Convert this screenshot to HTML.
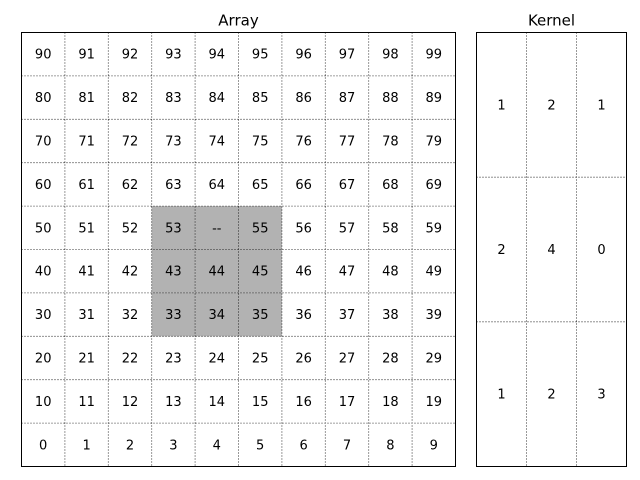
<!DOCTYPE html>
<html><head><meta charset="utf-8"><style>
html,body{margin:0;padding:0;background:#fff;}
svg{display:block;font-family:"DejaVu Sans","Liberation Sans",sans-serif;}
</style></head><body>
<svg id="chart" width="640" height="480"></svg>
<script>
const arrayRows = 10;
const arrayCols = 10;
const maskedValue = 54;
const highlightRows = [3, 4, 5];
const highlightCols = [3, 4, 5];
const kernelValues = [[1, 2, 1], [2, 4, 0], [1, 2, 3]];

const NS = "http://www.w3.org/2000/svg";
const svg = document.getElementById("chart");
function mk(tag, attrs, parent) {
  const e = document.createElementNS(NS, tag);
  for (const k in attrs) e.setAttribute(k, attrs[k]);
  (parent || svg).appendChild(e);
  return e;
}

function drawPanel(x0, y0, w, h, nRows, nCols, valueAt, isHighlighted, title, name) {
  const g = mk("g", {});
  
  
  const cw = w / nCols, ch = h / nRows;
  const xs = c => x0 + c * cw;
  const ys = r => y0 + h - (r + 1) * ch; // r from bottom
  for (let r = 0; r < nRows; r++) for (let c = 0; c < nCols; c++) {
    if (isHighlighted(r, c)) {
      const rc = mk("rect", {x: xs(c), y: ys(r), width: cw, height: ch, fill: "#b2b2b2"}, g);
      
      
    }
  }
  for (let c = 1; c < nCols; c++) {
    const l = mk("line", {x1: xs(c), x2: xs(c), y1: y0, y2: y0 + h, stroke: "#000", "stroke-width": 0.8, "stroke-dasharray": "1,2"}, g);
    
    
  }
  for (let r = 1; r < nRows; r++) {
    const l = mk("line", {x1: x0, x2: x0 + w, y1: y0 + r * ch, y2: y0 + r * ch, stroke: "#000", "stroke-width": 0.8, "stroke-dasharray": "1,2"}, g);
    
    
  }
  for (let r = 0; r < nRows; r++) for (let c = 0; c < nCols; c++) {
    const t = mk("text", {x: xs(c) + cw / 2, y: ys(r) + ch / 2 + 4.5, "text-anchor": "middle", "font-size": 13, fill: "#000"}, g);
    t.textContent = valueAt(r, c);
    
    
  }
  const b = mk("rect", {x: x0, y: y0, width: w, height: h, fill: "none", stroke: "#000", "stroke-width": 1}, g);
  
  
  const tt = mk("text", {x: x0 + w / 2, y: y0 - 7, "text-anchor": "middle", "font-size": 15, fill: "#000"}, g);
  tt.textContent = title;
  
  
}

drawPanel(21.5, 32.5, 434, 434, arrayRows, arrayCols,
  (r, c) => { const v = r * arrayCols + c; return v === maskedValue ? "--" : String(v); },
  (r, c) => highlightRows.includes(r) && highlightCols.includes(c),
  "Array", "array");

drawPanel(476.5, 32.5, 150, 434, 3, 3,
  (r, c) => String(kernelValues[2 - r][c]),
  () => false,
  "Kernel", "kernel");
</script>
</body></html>
